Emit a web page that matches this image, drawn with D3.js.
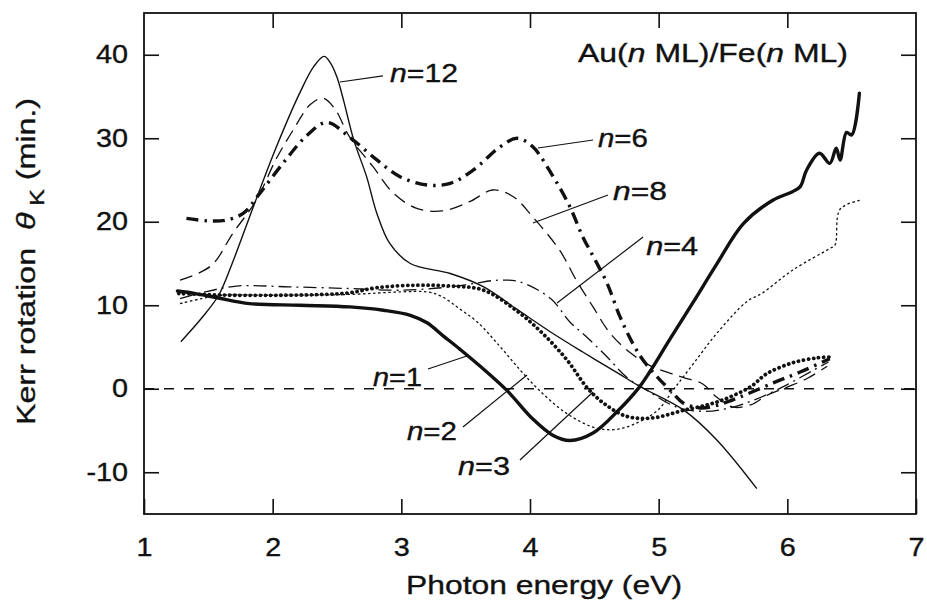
<!DOCTYPE html>
<html>
<head>
<meta charset="utf-8">
<script src="https://cdn.jsdelivr.net/npm/d3@7"></script>
<style>
  body { margin: 0; background: #fff; }
  svg { display: block; }
  text { font-family: "Liberation Sans", Arial, Helvetica, sans-serif; fill: #111; stroke: #111; stroke-width: 0.35px; }
</style>
</head>
<body>
<svg id="chart" width="927" height="607"></svg>
<script>
// Axis ticks
const energyTicks = [1, 2, 3, 4, 5, 6, 7];
const energyInnerTicks = [2, 3, 4, 5, 6];
const kerrTicks = [-10, 0, 10, 20, 30, 40];

// Kerr rotation spectra [photon energy (eV), theta_K (min.)] for Au(n ML)/Fe(n ML)
const n1 = [[1.26,11.7],[1.40,11.4],[1.57,10.9],[1.82,10.2],[2.21,10.0],[2.60,9.8],[2.86,9.4],[3.07,8.8],[3.20,7.9],[3.32,6.4],[3.45,4.8],[3.59,3.0],[3.82,-0.2],[4.02,-3.6],[4.18,-5.6],[4.31,-6.2],[4.49,-5.3],[4.68,-2.7],[4.85,0.2],[4.93,2.0],[5.09,6.0],[5.27,10.4],[5.45,14.9],[5.66,19.8],[5.89,22.6],[6.04,23.6],[6.10,24.2],[6.15,26.2],[6.25,28.2],[6.33,27.0],[6.38,28.8],[6.41,27.4],[6.46,30.7],[6.50,30.4],[6.56,35.4]];
const n2 = [[1.28,10.2],[1.45,10.8],[1.60,11.2],[2.00,11.2],[2.60,11.3],[3.00,11.6],[3.20,11.6],[3.32,11.0],[3.45,9.6],[3.59,8.0],[3.77,5.0],[3.92,2.3],[4.06,0.0],[4.27,-2.8],[4.49,-4.6],[4.65,-4.9],[4.80,-4.3],[4.99,-2.6],[5.12,0.0],[5.27,3.0],[5.45,6.6],[5.69,10.5],[5.80,11.4],[6.04,14.2],[6.33,16.8],[6.37,17.2],[6.41,21.5],[6.57,22.6]];
const n3 = [[1.27,11.4],[1.45,11.3],[1.69,11.2],[2.08,11.2],[2.40,11.3],[2.60,11.5],[2.81,12.1],[3.12,12.4],[3.38,12.3],[3.64,11.8],[3.90,9.3],[4.10,6.6],[4.29,3.4],[4.44,0.2],[4.57,-1.7],[4.75,-3.3],[4.95,-3.5],[5.19,-2.6],[5.45,-1.6],[5.71,0.2],[5.84,1.8],[6.04,3.1],[6.23,3.7],[6.33,3.8]];
const n4 = [[1.28,10.8],[1.45,11.5],[1.72,12.3],[2.13,12.2],[2.60,12.0],[3.00,11.8],[3.38,12.2],[3.56,12.6],[3.75,13.0],[3.92,12.8],[4.16,10.8],[4.31,8.0],[4.44,6.2],[4.60,3.8],[4.75,1.4],[4.91,-0.2],[5.14,-2.2],[5.35,-2.7],[5.55,-2.3],[5.75,-1.3],[6.00,0.5],[6.20,2.2],[6.32,3.2]];
const n6 = [[1.33,20.4],[1.50,20.1],[1.64,20.2],[1.77,21.0],[1.90,23.4],[2.08,27.0],[2.27,30.4],[2.42,31.9],[2.60,30.1],[2.81,27.4],[2.99,25.4],[3.20,24.4],[3.38,24.6],[3.56,26.2],[3.77,29.0],[3.90,30.0],[4.02,29.0],[4.18,25.4],[4.31,21.8],[4.41,18.2],[4.50,15.6],[4.60,12.6],[4.70,8.6],[4.80,5.4],[4.88,3.4],[4.99,1.4],[5.11,-0.5],[5.19,-1.7],[5.32,-2.3],[5.45,-2.0],[5.63,-1.0],[5.89,0.7],[6.10,2.0],[6.33,3.6]];
const n8 = [[1.28,13.0],[1.42,13.8],[1.54,15.0],[1.69,18.6],[1.87,22.5],[2.03,27.6],[2.16,31.0],[2.29,34.0],[2.39,34.8],[2.48,33.6],[2.60,30.1],[2.78,26.6],[2.94,23.4],[3.12,21.6],[3.32,21.3],[3.53,22.4],[3.71,23.8],[3.87,23.0],[4.02,20.6],[4.23,16.6],[4.36,13.0],[4.49,9.8],[4.62,6.7],[4.78,4.3],[4.93,2.8],[5.10,1.8],[5.20,1.3],[5.34,0.6],[5.45,-1.0],[5.58,-2.2],[5.72,-1.9],[5.84,-0.8],[6.00,0.2],[6.15,1.2],[6.31,2.7]];
const n12 = [[1.29,5.7],[1.45,8.5],[1.58,11.2],[1.68,14.8],[1.85,21.8],[2.03,29.0],[2.21,35.4],[2.32,38.6],[2.40,39.8],[2.45,39.0],[2.50,37.3],[2.55,34.6],[2.63,29.8],[2.73,25.4],[2.81,21.0],[2.91,17.4],[3.07,15.0],[3.38,13.8],[3.64,12.2],[3.90,9.5],[4.16,6.8],[4.41,4.4],[4.68,1.9],[4.85,0.3],[5.19,-2.5],[5.45,-6.1],[5.76,-11.9]];

// Curve labels: text, anchor point and leader line ends (data units)
const labelNames = ["12", "6", "8", "4", "1", "2", "3"];
const labelAt = [[2.912,36.74],[4.528,28.95],[4.645,22.60],[4.903,16.02],[2.780,0.33],[3.044,-6.14],[3.440,-10.33]];
const leaderFrom = [[2.523,36.74],[4.062,28.83],[4.023,19.85],[4.210,10.27],[3.207,2.37],[3.479,-4.58],[3.922,-8.53]];
const leaderTo = [[2.857,37.46],[4.490,29.79],[4.606,23.20],[4.879,18.17],[3.510,3.92],[3.977,1.65],[4.490,-0.39]];
const labelWidths = [68, 50, 54, 52, 49, 50, 52];

const series = [
  { data: n1,  width: 3.4, dash: null,            cap: "round" },
  { data: n2,  width: 1.3, dash: "2.5,2.6",       cap: "butt" },
  { data: n3,  width: 3.8, dash: "0.1,5",         cap: "round" },
  { data: n4,  width: 1.3, dash: "13,5,2,5",      cap: "butt" },
  { data: n6,  width: 3.4, dash: "12,6,2.5,6",    cap: "butt" },
  { data: n8,  width: 1.3, dash: "13,7",          cap: "butt" },
  { data: n12, width: 1.4, dash: null,            cap: "round" }
];

const svg = d3.select("#chart");
const x = d3.scaleLinear().domain([1, 7]).range([144, 916]);
const y = d3.scaleLinear().domain([-15, 45]).range([514, 13]);

// stretch helper for the wide lettering
function widen(sel, k) {
  sel.each(function () {
    const len = this.getComputedTextLength();
    d3.select(this).attr("textLength", len * k).attr("lengthAdjust", "spacingAndGlyphs");
  });
}

// zero reference line
svg.append("line")
  .attr("x1", x(1)).attr("x2", x(7))
  .attr("y1", y(0)).attr("y2", y(0))
  .attr("stroke", "#111").attr("stroke-width", 1.5)
  .attr("stroke-dasharray", "10,10");

// axes with inward ticks on all four sides
const axisStyle = g => {
  g.select(".domain").remove();
  g.selectAll(".tick line").attr("stroke", "#111").attr("stroke-width", 1.6);
};
const left = svg.append("g").attr("transform", `translate(${x(1)},0)`)
  .call(d3.axisLeft(y).tickValues(kerrTicks).tickSize(-15).tickPadding(16).tickSizeOuter(0).tickFormat(d => d))
  .call(axisStyle);
left.selectAll("text").attr("font-size", 25).attr("fill", "#111").style("font-family", "Liberation Sans, Arial, sans-serif");
widen(left.selectAll("text"), 1.15);

const bottom = svg.append("g").attr("transform", `translate(0,${y(-15)})`)
  .call(d3.axisBottom(x).tickValues(energyTicks).tickSize(-15).tickPadding(24).tickSizeOuter(0).tickFormat(d => d))
  .call(axisStyle);
bottom.selectAll("text").attr("font-size", 25).attr("fill", "#111").style("font-family", "Liberation Sans, Arial, sans-serif");
widen(bottom.selectAll("text"), 1.15);

svg.append("g").attr("transform", `translate(0,${y(45)})`)
  .call(d3.axisTop(x).tickValues(energyInnerTicks).tickSize(-15).tickSizeOuter(0).tickFormat(""))
  .call(axisStyle);
svg.append("g").attr("transform", `translate(${x(7)},0)`)
  .call(d3.axisRight(y).tickValues(kerrTicks).tickSize(-15).tickSizeOuter(0).tickFormat(""))
  .call(axisStyle);

// frame
svg.append("rect")
  .attr("x", x(1)).attr("y", y(45))
  .attr("width", x(7) - x(1)).attr("height", y(-15) - y(45))
  .attr("fill", "none").attr("stroke", "#111").attr("stroke-width", 1.8);

// spectra
const line = d3.line().x(d => x(d[0])).y(d => y(d[1])).curve(d3.curveCatmullRom.alpha(0.5));
svg.append("g").selectAll("path").data(series).join("path")
  .attr("d", s => line(s.data))
  .attr("fill", "none")
  .attr("stroke", "#111")
  .attr("stroke-width", s => s.width)
  .attr("stroke-linecap", s => s.cap)
  .attr("stroke-linejoin", "round")
  .attr("stroke-dasharray", s => s.dash);

// leader lines and curve labels
const ann = svg.append("g");
labelNames.forEach((name, i) => {
  ann.append("line")
    .attr("x1", x(leaderFrom[i][0])).attr("y1", y(leaderFrom[i][1]))
    .attr("x2", x(leaderTo[i][0])).attr("y2", y(leaderTo[i][1]))
    .attr("stroke", "#111").attr("stroke-width", 1.2);
  const t = ann.append("text")
    .attr("x", x(labelAt[i][0])).attr("y", y(labelAt[i][1]))
    .attr("font-size", 25)
    .attr("textLength", labelWidths[i]).attr("lengthAdjust", "spacingAndGlyphs");
  t.append("tspan").attr("font-style", "italic").text("n");
  t.append("tspan").text("=" + name);
});

// sample title
const title = svg.append("text")
  .attr("x", 578).attr("y", 62).attr("font-size", 26)
  .attr("textLength", 270).attr("lengthAdjust", "spacingAndGlyphs");
title.append("tspan").text("Au(");
title.append("tspan").attr("font-style", "italic").text("n");
title.append("tspan").text("\u00a0ML)/Fe(");
title.append("tspan").attr("font-style", "italic").text("n");
title.append("tspan").text("\u00a0ML)");

// axis titles
svg.append("text")
  .attr("x", 406).attr("y", 594).attr("font-size", 26)
  .attr("textLength", 276).attr("lengthAdjust", "spacingAndGlyphs")
  .text("Photon energy (eV)");

const yt = svg.append("text")
  .attr("transform", "translate(35,425) rotate(-90)")
  .attr("font-size", 26)
  .attr("textLength", 327).attr("lengthAdjust", "spacingAndGlyphs");
yt.append("tspan").text("Kerr rotation\u00a0\u00a0");
yt.append("tspan").attr("font-style", "italic").text("\u03b8");
yt.append("tspan").attr("font-size", 20).attr("dy", 9).text("\u00a0K");
yt.append("tspan").attr("dy", -9).text("\u00a0(min.)");
</script>
</body>
</html>
